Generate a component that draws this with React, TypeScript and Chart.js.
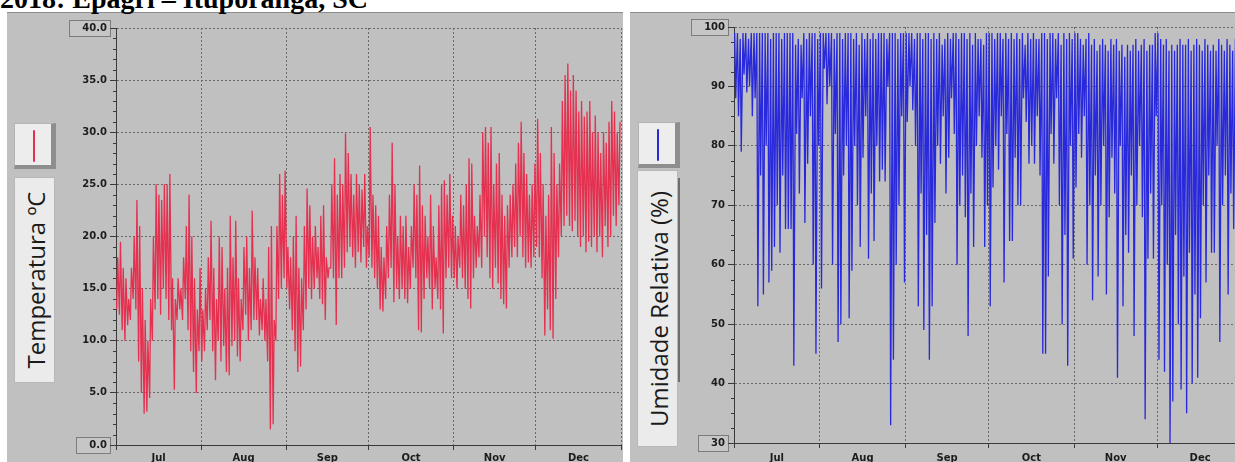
import React, { useEffect, useRef } from 'react';
import { Chart, registerables } from 'chart.js';

Chart.register(...registerables);

// ---------------- DATA ----------------
const TITLE = '2018: Epagri – Ituporanga, SC';
const MONTHS = ['Jul', 'Aug', 'Sep', 'Oct', 'Nov', 'Dec'];
const MONTH_START_DAY = [0, 31, 62, 92, 123, 153, 184];
const MIN_HOUR = 6; // hour of daily minimum temperature / maximum humidity
const MAX_HOUR = 15; // hour of daily maximum temperature / minimum humidity

const TEMP_MAX = [
  18, 19.5, 17, 16, 14, 17, 20, 23.5, 21, 15,
  12, 10, 14, 20, 25, 24, 23.5, 25, 25, 26,
  16, 14, 16, 15, 18, 21, 24, 20, 16, 13, 17,
  13, 15, 18, 21.5, 17, 14, 20, 19, 15, 17,
  22, 18, 21.5, 16, 14, 19, 20, 17, 22.5, 18,
  17, 14, 16, 14, 19, 21, 12, 21, 26, 24, 26.3,
  19, 18, 20, 22, 17, 16, 21, 24.6, 23, 20,
  21, 19, 22, 23, 18, 17, 25, 27.5, 24, 26,
  25, 29.9, 28, 26, 24, 26, 25, 24.5, 26, 21,
  30.5, 24, 23, 22, 19, 18, 21, 24, 29, 25,
  20, 22, 21, 22, 19, 21, 25, 24, 26.8, 23,
  22, 20, 24, 21, 18, 23, 25, 25.4, 24, 26, 22,
  21, 20, 24, 23, 25, 27.5, 27, 22, 21, 24,
  30, 30.5, 29, 30.5, 25, 27, 28, 24, 22, 23,
  24, 25, 27, 29, 31, 28, 26, 24, 25, 27,
  31.3, 28, 25, 22, 24, 30.5, 28, 25, 27, 33,
  35.5, 36.6, 34, 35.5, 34, 32, 33, 31.5, 32, 33,
  30, 31.6, 30, 28, 30, 29, 31, 33, 32, 30, 31,
];

const TEMP_MIN = [
  13, 12.5, 11, 10, 11.5, 12, 14, 13, 8, 5,
  3, 3.2, 4.5, 10, 13, 14, 12.5, 15, 14, 12,
  11, 5.3, 12, 13, 12, 14, 11, 9, 7, 5, 9,
  8, 9, 11, 12, 9, 6.2, 10, 8, 9.5, 7,
  6.7, 9.5, 10, 8.5, 8, 11, 12.5, 10, 11, 12,
  12, 10.5, 11, 10, 8, 1.5, 2, 10, 14, 15, 16,
  15, 13, 11, 9, 7, 7.5, 11, 13, 15, 14,
  15, 16, 14, 13.5, 12, 16, 17, 16, 11.5, 16,
  16, 17, 18.5, 19, 18, 17, 18.5, 17.5, 19, 17,
  18, 17, 16, 15, 13, 12.8, 14, 16, 17, 13.7,
  15, 14, 15, 14, 13.6, 15, 17, 16, 11, 10.8,
  14, 16, 15, 13, 15, 14, 13, 10.7, 16, 17, 16,
  16, 15, 17, 16, 15, 14, 13.1, 16, 17, 18,
  17, 20, 18, 16, 15, 17, 15.5, 14, 13.5, 13.1,
  17, 18, 19, 18, 20, 18, 17, 17.5, 17, 18,
  19, 18, 16, 10.5, 13, 11, 10.2, 14, 18, 20,
  21, 22, 21, 20.5, 21.5, 20, 19, 20, 18.5, 19.5,
  19, 20, 18.5, 20, 18, 21, 19, 20, 22, 21, 23,
];

const HUM_MAX = [
  99, 99, 98, 99, 99, 98, 99, 99, 99, 99,
  99, 99, 99, 98, 99, 99, 99, 98, 99, 99,
  99, 99, 97, 98, 97, 99, 98, 99, 99, 99, 98,
  99, 99, 99, 99, 99, 98, 99, 99, 98, 99,
  99, 99, 98, 99, 97, 99, 98, 99, 98, 99,
  98, 99, 99, 99, 98, 99, 99, 99, 98, 99, 99,
  99, 99, 99, 98, 99, 99, 98, 99, 99, 98,
  99, 98, 99, 97, 98, 99, 98, 99, 99, 98,
  99, 99, 98, 99, 97, 99, 98, 98, 97, 99,
  99, 99, 98, 99, 99, 98, 99, 98, 99, 98,
  99, 98, 99, 97, 99, 98, 99, 98, 98, 99,
  99, 98, 99, 99, 98, 99, 97, 99, 98, 99, 98,
  99, 99, 98, 97, 98, 99, 97, 98, 96, 97,
  98, 97, 96, 98, 97, 98, 96, 97, 95, 97,
  96, 97, 98, 96, 97, 98, 96, 97, 97, 99,
  99, 98, 97, 98, 96, 97, 96, 97, 98, 97,
  97, 98, 96, 97, 98, 97, 96, 98, 97, 96,
  97, 96, 98, 97, 96, 98, 97, 96, 98, 97, 96,
];

const HUM_MIN = [
  88, 85, 79, 92, 89, 90, 85, 88, 53, 75,
  55, 80, 57, 59, 63, 70, 62, 75, 66, 66,
  66, 43, 82, 72, 88, 67, 77, 85, 60, 45, 80,
  56, 93, 87, 90, 60, 82, 47, 50, 75, 80,
  51, 59, 80, 70, 63, 78, 85, 61, 72, 64,
  80, 74, 76, 74, 90, 33, 44, 60, 70, 85, 57,
  84, 90, 86, 80, 53, 72, 49, 65, 44, 53,
  67, 80, 77, 85, 72, 78, 88, 82, 60, 70,
  75, 68, 48, 72, 63, 80, 85, 78, 63, 70,
  53, 73, 80, 76, 85, 57, 82, 64, 64, 78,
  70, 70, 88, 84, 77, 80, 77, 85, 75, 45,
  45, 58, 82, 77, 88, 70, 50, 65, 43, 80, 61,
  73, 82, 78, 85, 60, 70, 54, 75, 58, 70,
  80, 55, 68, 78, 72, 41, 80, 53, 65, 62,
  75, 48, 70, 80, 68, 34, 61, 72, 61, 85,
  44, 70, 42, 60, 30, 37, 65, 50, 39, 58,
  35, 62, 40, 55, 41, 51, 70, 57, 75, 62,
  62, 80, 47, 70, 75, 55, 72, 66, 70, 75, 68,
];

const TEMP_AXIS = { min: 0, max: 40, step: 5, minor: 1, decimals: 1, title: 'Temperatura ºC' };
const HUM_AXIS = { min: 30, max: 100, step: 10, minor: 2.5, decimals: 0, title: 'Umidade Relativa (%)' };

// ---------------- STYLE ----------------
const PANEL_BG = '#c0c0c0';
const GRID_COLOR = '#6a6a6a';
const AXIS_COLOR = '#3a3a3a';
const TEXT_COLOR = '#1c1c1c';
const TICK_FONT = { family: '"DejaVu Sans", sans-serif', size: 10, weight: 'bold' as const };
const TEMP_COLOR = '#e5304f';
const HUM_COLOR = '#2828dc';

// ---------------- HELPERS ----------------
const X_TICKS: number[] = [];
for (let i = 0; i < MONTH_START_DAY.length; i++) {
  X_TICKS.push(MONTH_START_DAY[i]);
  if (i < MONTHS.length) X_TICKS.push((MONTH_START_DAY[i] + MONTH_START_DAY[i + 1]) / 2);
}
const isBoundary = (v: number) => MONTH_START_DAY.includes(v);

function buildPoints(lowHour: number, low: number[], highHour: number, high: number[]) {
  const pts: { x: number; y: number }[] = [];
  for (let d = 0; d < low.length; d++) {
    const a = { x: d + lowHour / 24, y: low[d] };
    const b = { x: d + highHour / 24, y: high[d] };
    if (lowHour < highHour) pts.push(a, b);
    else pts.push(b, a);
  }
  return pts;
}

const minorTicksPlugin = {
  id: 'minorTicks',
  afterDraw(chart: any, _args: any, opts: any) {
    const y = chart.scales.y;
    const ctx = chart.ctx;
    ctx.save();
    ctx.strokeStyle = AXIS_COLOR;
    ctx.lineWidth = 1;
    const n = Math.round((y.max - y.min) / opts.minor);
    for (let i = 0; i <= n; i++) {
      const v = y.min + i * opts.minor;
      const r = (v - y.min) / opts.major;
      if (Math.abs(r - Math.round(r)) < 1e-6) continue;
      const py = Math.round(y.getPixelForValue(v)) + 0.5;
      ctx.beginPath();
      ctx.moveTo(y.right - 3, py);
      ctx.lineTo(y.right, py);
      ctx.stroke();
    }
    ctx.restore();
  },
};

const labelBoxPlugin = {
  id: 'labelBoxes',
  beforeDraw(chart: any) {
    const y = chart.scales.y;
    const ctx = chart.ctx;
    const tl = y.options.grid.tickLength;
    const pad = y.options.ticks.padding;
    ctx.save();
    ctx.font = `bold ${TICK_FONT.size}px ${TICK_FONT.family}`;
    const ticks = y.ticks;
    [ticks[0], ticks[ticks.length - 1]].forEach((t: any) => {
      const label = String(t.label);
      const w = ctx.measureText(label).width;
      const right = y.right - tl - pad + 2.5;
      const left = right - w - 16;
      const py = Math.round(y.getPixelForValue(t.value));
      ctx.fillStyle = '#c6c6c6';
      ctx.fillRect(left, py - 8, right - left, 16);
      ctx.strokeStyle = '#7c7c7c';
      ctx.lineWidth = 1;
      ctx.strokeRect(Math.round(left) + 0.5, py - 7.5, Math.round(right - left), 16);
    });
    ctx.restore();
  },
};

function makeConfig(p: {
  points: { x: number; y: number }[];
  color: string;
  axis: typeof TEMP_AXIS;
  yWidth: number;
  xHeight: number;
  padTop: number;
  padRight: number;
  xPad: number;
}) {
  const { axis } = p;
  return {
    type: 'line' as const,
    data: {
      datasets: [
        {
          data: p.points,
          borderColor: p.color,
          borderWidth: 1.3,
          pointRadius: 0,
          tension: 0,
          fill: false,
        },
      ],
    },
    options: {
      animation: false as const,
      responsive: false,
      events: [],
      layout: { padding: { left: 0, right: p.padRight, top: p.padTop, bottom: 0 } },
      plugins: {
        legend: { display: false },
        tooltip: { enabled: false },
        minorTicks: { minor: axis.minor, major: axis.step },
      },
      scales: {
        x: {
          type: 'linear' as const,
          min: MONTH_START_DAY[0],
          max: MONTH_START_DAY[MONTH_START_DAY.length - 1],
          afterBuildTicks: (s: any) => {
            s.ticks = X_TICKS.map((v) => ({ value: v }));
          },
          afterFit: (s: any) => {
            s.height = p.xHeight;
          },
          ticks: {
            autoSkip: false,
            maxRotation: 0,
            minRotation: 0,
            padding: p.xPad,
            color: TEXT_COLOR,
            font: TICK_FONT,
            callback: (v: any) => {
              const val = Number(v);
              if (isBoundary(val)) return '';
              const idx = MONTH_START_DAY.findIndex((s, i) => i < MONTHS.length && (s + MONTH_START_DAY[i + 1]) / 2 === val);
              return idx >= 0 ? MONTHS[idx] : '';
            },
          },
          grid: {
            color: (c: any) => (c.tick && isBoundary(c.tick.value) ? GRID_COLOR : 'rgba(0,0,0,0)'),
            tickColor: (c: any) => (c.tick && isBoundary(c.tick.value) ? AXIS_COLOR : 'rgba(0,0,0,0)'),
            tickLength: 5,
            lineWidth: 1,
          },
          border: { display: true, color: AXIS_COLOR, width: 1, dash: [2, 2] },
        },
        y: {
          type: 'linear' as const,
          min: axis.min,
          max: axis.max,
          ticks: {
            stepSize: axis.step,
            padding: 3,
            color: TEXT_COLOR,
            font: TICK_FONT,
            callback: (v: any) => Number(v).toFixed(axis.decimals),
          },
          afterFit: (s: any) => {
            s.width = p.yWidth;
          },
          grid: {
            color: GRID_COLOR,
            tickColor: AXIS_COLOR,
            tickLength: 6,
            lineWidth: 1,
          },
          border: { display: true, color: AXIS_COLOR, width: 1, dash: [2, 2] },
        },
      },
    },
    plugins: [minorTicksPlugin, labelBoxPlugin],
  };
}

function ChartCanvas(props: { config: any; left: number; top: number; width: number; height: number }) {
  const ref = useRef<HTMLCanvasElement>(null);
  useEffect(() => {
    const chart = new Chart(ref.current as HTMLCanvasElement, props.config);
    return () => chart.destroy();
  }, []);
  return (
    <canvas
      ref={ref}
      width={props.width}
      height={props.height}
      style={{ position: 'absolute', left: props.left, top: props.top, width: props.width, height: props.height }}
    />
  );
}

function LegendBox(props: { left: number; top: number; color: string }) {
  return (
    <div
      style={{
        position: 'absolute',
        left: props.left,
        top: props.top,
        width: 42,
        height: 46,
        boxSizing: 'border-box',
        background: '#ededed',
        borderTop: '1px solid #b4b4b4',
        borderLeft: '1px solid #b4b4b4',
        borderRight: '5px solid #8e8e8e',
        borderBottom: '4px solid #8e8e8e',
      }}
    >
      <div
        style={{
          position: 'absolute',
          left: 18,
          top: 6,
          width: 2,
          height: 32,
          borderRadius: 1,
          background: props.color,
        }}
      />
    </div>
  );
}

function TitleBox(props: { left: number; top: number; width: number; height: number; text: string }) {
  return (
    <div
      style={{
        position: 'absolute',
        left: props.left,
        top: props.top,
        width: props.width,
        height: props.height,
        boxSizing: 'border-box',
        background: '#ebebeb',
        border: '1px solid #b8b8b8',
      }}
    >
      <div
        style={{
          position: 'absolute',
          left: '50%',
          top: '50%',
          transform: 'translate(-50%, -50%) rotate(-90deg)',
          whiteSpace: 'nowrap',
          fontFamily: '"Open Sans", sans-serif',
          fontSize: 24,
          color: '#1a1a1a',
        }}
      >
        {props.text}
      </div>
    </div>
  );
}

export default function App() {
  const tempConfig = makeConfig({
    points: buildPoints(MIN_HOUR, TEMP_MIN, MAX_HOUR, TEMP_MAX),
    color: TEMP_COLOR,
    axis: TEMP_AXIS,
    yWidth: 109,
    xHeight: 17,
    padTop: 16,
    padRight: 1,
    xPad: 2,
  });
  const humConfig = makeConfig({
    points: buildPoints(MIN_HOUR, HUM_MAX, MAX_HOUR, HUM_MIN),
    color: HUM_COLOR,
    axis: HUM_AXIS as any,
    yWidth: 104,
    xHeight: 19,
    padTop: 15,
    padRight: 7,
    xPad: 4,
  });

  return (
    <div
      style={{
        position: 'fixed',
        left: 0,
        top: 0,
        width: 1235,
        height: 462,
        overflow: 'hidden',
        background: '#ffffff',
      }}
    >
      {/* panels */}
      <div style={{ position: 'absolute', left: 7, top: 12, width: 616, height: 450, background: PANEL_BG }} />
      <div style={{ position: 'absolute', left: 630, top: 12, width: 620, height: 450, background: PANEL_BG }} />
      <div style={{ position: 'absolute', left: 7, top: 12, width: 616, height: 1, background: '#8c8c8c' }} />
      <div style={{ position: 'absolute', left: 630, top: 12, width: 620, height: 1, background: '#8c8c8c' }} />

      {/* title */}
      <div
        style={{
          position: 'absolute',
          left: 0,
          top: -15,
          fontFamily: '"Liberation Serif", serif',
          fontWeight: 'bold',
          fontSize: 28,
          lineHeight: '28px',
          whiteSpace: 'nowrap',
          color: '#000',
        }}
      >
        {TITLE}
      </div>

      {/* left panel */}
      <LegendBox left={14} top={123} color={TEMP_COLOR} />
      <TitleBox left={14} top={177} width={41} height={206} text={TEMP_AXIS.title} />
      <ChartCanvas config={tempConfig} left={7} top={12} width={616} height={450} />

      {/* right panel */}
      <LegendBox left={638} top={122} color={HUM_COLOR} />
      <TitleBox left={637} top={170} width={41} height={277} text={HUM_AXIS.title} />
      <div style={{ position: 'absolute', left: 678, top: 178, width: 2, height: 204, background: '#6e6e6e' }} />
      <ChartCanvas config={humConfig} left={630} top={12} width={620} height={450} />
    </div>
  );
}
